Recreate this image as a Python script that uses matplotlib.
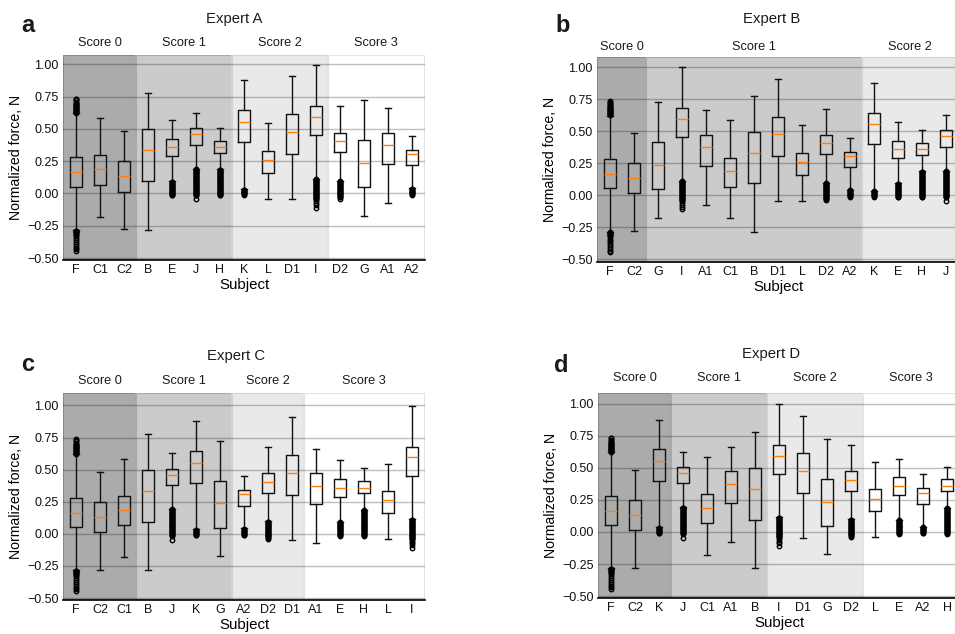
import numpy as np
import matplotlib
matplotlib.use('Agg')
import matplotlib.pyplot as plt
from matplotlib.transforms import blended_transform_factory

plt.rcParams['font.family'] = ['Liberation Sans', 'DejaVu Sans']

# Per-subject box statistics (normalized force, N)
subjects = ['F', 'C1', 'C2', 'B', 'E', 'J', 'H', 'K', 'L', 'D1', 'I', 'D2', 'G', 'A1', 'A2']
whislo = [-0.283, -0.18, -0.278, -0.283, 0.095, 0.193, 0.188, 0.035, -0.041, -0.044, 0.113, 0.098, -0.175, -0.075, 0.042]
q1     = [0.053, 0.068, 0.015, 0.095, 0.291, 0.379, 0.317, 0.400, 0.160, 0.304, 0.451, 0.322, 0.049, 0.229, 0.219]
med    = [0.163, 0.186, 0.134, 0.333, 0.360, 0.459, 0.360, 0.554, 0.260, 0.477, 0.595, 0.405, 0.237, 0.374, 0.307]
q3     = [0.281, 0.294, 0.250, 0.497, 0.425, 0.508, 0.410, 0.644, 0.332, 0.613, 0.680, 0.472, 0.415, 0.472, 0.340]
whishi = [0.620, 0.585, 0.482, 0.776, 0.572, 0.626, 0.510, 0.876, 0.546, 0.907, 0.997, 0.675, 0.727, 0.662, 0.448]

fliers = {
    'F':  [0.625, 0.63, 0.635, 0.64, 0.645, 0.65, 0.655, 0.66, 0.665, 0.67, 0.675, 0.68,
           0.685, 0.69, 0.695, 0.70, 0.71, 0.72, 0.73, 0.735,
           -0.287, -0.292, -0.297, -0.302, -0.307, -0.312, -0.318, -0.33, -0.345, -0.36,
           -0.375, -0.39, -0.405, -0.42, -0.432, -0.443],
    'E':  [0.09, 0.085, 0.08, 0.075, 0.07, 0.065, 0.06, 0.055, 0.05, 0.045, 0.04, 0.035,
           0.03, 0.025, 0.02, 0.015, 0.01, 0.005, 0.0, -0.005, -0.01, -0.013],
    'J':  [0.19, 0.18, 0.17, 0.16, 0.15, 0.14, 0.13, 0.12, 0.11, 0.10, 0.09, 0.08,
           0.07, 0.06, 0.05, 0.04, 0.03, 0.02, 0.01, 0.0, -0.01, -0.013,
           0.185, 0.175, 0.165, 0.155, 0.145, 0.135, 0.125, 0.115, 0.105, 0.095, 0.085,
           0.075, 0.065, 0.055, 0.045, 0.035, 0.025, 0.015, 0.005, -0.005, -0.046],
    'H':  [0.183, 0.175, 0.165, 0.155, 0.145, 0.135, 0.125, 0.115, 0.105, 0.095, 0.085,
           0.075, 0.065, 0.055, 0.045, 0.035, 0.025, 0.015, 0.005, -0.005, -0.013,
           0.18, 0.17, 0.16, 0.15, 0.14, 0.13, 0.12, 0.11, 0.10, 0.09, 0.08, 0.07,
           0.06, 0.05, 0.04, 0.03, 0.02, 0.01, 0.0, -0.01],
    'K':  [0.03, 0.025, 0.02, 0.015, 0.01, 0.005, 0.0, -0.005, -0.01],
    'I':  [0.11, 0.105, 0.10, 0.095, 0.09, 0.085, 0.08, 0.075, 0.07, 0.065, 0.06, 0.055,
           0.05, 0.045, 0.04, 0.035, 0.03, 0.025, 0.02, 0.015, 0.01, 0.005, 0.0,
           -0.005, -0.01, -0.015, -0.02, -0.025, -0.03, -0.035, -0.04, -0.045,
           -0.06, -0.075, -0.09, -0.11],
    'D2': [0.095, 0.09, 0.085, 0.08, 0.075, 0.07, 0.065, 0.06, 0.055, 0.05, 0.045,
           0.04, 0.035, 0.03, 0.025, 0.02, 0.015, 0.01, 0.005, 0.0, -0.005, -0.01,
           -0.015, -0.02, -0.025, -0.03, -0.04],
    'A2': [0.038, 0.032, 0.025, 0.02, 0.015, 0.01, 0.005, 0.0, -0.005, -0.012],
}

# Subject order and score grouping per expert
experts = ['Expert A', 'Expert B', 'Expert C', 'Expert D']
letters = ['a', 'b', 'c', 'd']
orders = [
    ['F', 'C1', 'C2', 'B', 'E', 'J', 'H', 'K', 'L', 'D1', 'I', 'D2', 'G', 'A1', 'A2'],
    ['F', 'C2', 'G', 'I', 'A1', 'C1', 'B', 'D1', 'L', 'D2', 'A2', 'K', 'E', 'H', 'J'],
    ['F', 'C2', 'C1', 'B', 'J', 'K', 'G', 'A2', 'D2', 'D1', 'A1', 'E', 'H', 'L', 'I'],
    ['F', 'C2', 'K', 'J', 'C1', 'A1', 'B', 'I', 'D1', 'G', 'D2', 'L', 'E', 'A2', 'H'],
]
group_sizes = [[3, 4, 4, 4], [2, 9, 4], [3, 4, 3, 5], [3, 4, 4, 4]]

score_face = ['#ababab', '#cbcbcb', '#e9e9e9', '#ffffff']
score_edge = ['#888888', '#a9a9a9', '#d2d2d2', '#e4e4e4']

W, H = 955, 634
# axes boxes in pixels: left, top, right, bottom
boxes_px = [(63, 55, 425, 260), (597, 57, 959, 262), (63, 393, 425, 600), (598, 393, 960, 598)]
ylims = [(-0.515, 1.072), (-0.52, 1.078), (-0.515, 1.097), (-0.515, 1.083)]
title_px = [(234, 19), (772, 19), (236, 356), (771, 354)]
letter_px = [(21, 32), (555, 32), (21, 371), (554, 372)]
score_y = [1.058, 1.05, 1.058, 1.072]

fig = plt.figure(figsize=(W / 100, H / 100), dpi=100)
fig.patch.set_facecolor('white')

for k in range(4):
    l, t, r, b = boxes_px[k]
    ax = fig.add_axes([l / W, 1 - b / H, (r - l) / W, (b - t) / H])
    n = len(orders[k])
    pos = np.arange(1, n + 1)
    x0, x1 = 1 - 13 / 24, 1 - 13 / 24 + (r - l) / 24
    ax.set_xlim(x0, x1)
    ax.set_ylim(*ylims[k])

    # score bands
    start = 0
    trans = blended_transform_factory(ax.transData, ax.transAxes)
    for g, size in enumerate(group_sizes[k]):
        lo = x0 if start == 0 else start + 0.5
        hi = x1 if start + size == n else start + size + 0.5
        ax.axvspan(lo, hi, facecolor=score_face[g], edgecolor=score_edge[g],
                   linewidth=1.5, zorder=0)
        ax.text(start + (size + 1) / 2, score_y[k], f'Score {g}', transform=trans,
                ha='center', va='center', fontsize=9.2, color='#1a1a1a')
        start += size

    for yv in [-0.5, -0.25, 0.0, 0.25, 0.5, 0.75, 1.0]:
        ax.axhline(yv, color='black', alpha=0.25, linewidth=1.0, zorder=1)

    stats = []
    for s in orders[k]:
        i = subjects.index(s)
        stats.append(dict(whislo=whislo[i], q1=q1[i], med=med[i], q3=q3[i],
                          whishi=whishi[i], fliers=fliers.get(s, [])))
    ax.bxp(stats, positions=pos, widths=0.5, showfliers=True, manage_ticks=False,
           boxprops=dict(color='#111111', linewidth=1.0),
           whiskerprops=dict(color='#111111', linewidth=1.0),
           capprops=dict(color='#111111', linewidth=1.0),
           medianprops=dict(color='#ff7f0e', linewidth=1.0),
           flierprops=dict(marker='o', markersize=3.2, markerfacecolor='none',
                           markeredgecolor='black', markeredgewidth=1.0),
           zorder=3)

    yt = [1.0, 0.75, 0.5, 0.25, 0.0, -0.25, -0.5]
    ax.set_yticks(yt)
    ax.set_yticklabels([f'{v:.2f}'.replace('-', '\u2212') for v in yt], fontsize=9)
    ax.set_xticks(pos)
    ax.set_xticklabels(orders[k], fontsize=9)
    ax.tick_params(axis='both', length=0, pad=3, colors='#111111')
    ax.set_ylabel('Normalized force, N', fontsize=10.2, labelpad=3)
    ax.set_xlabel('Subject', fontsize=10.8, labelpad=1)
    for side in ['top', 'right', 'left']:
        ax.spines[side].set_visible(False)
    ax.spines['bottom'].set_color('black')
    ax.spines['bottom'].set_linewidth(1.2)

    tx, ty = title_px[k]
    fig.text(tx / W, 1 - ty / H, experts[k], ha='center', va='center',
             fontsize=10.7, color='#1a1a1a')
    lx, ly = letter_px[k]
    fig.text(lx / W, 1 - ly / H, letters[k], ha='left', va='baseline',
             fontsize=17, fontweight='bold', color='#1a1a1a')

fig.savefig('out.png', dpi=100)
